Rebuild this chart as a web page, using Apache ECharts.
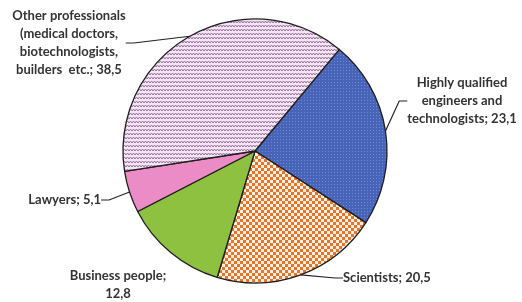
<!DOCTYPE html>
<html>
<head>
<meta charset="utf-8">
<script src="https://cdn.jsdelivr.net/npm/echarts@6/dist/echarts.min.js"></script>
<style>
  html, body { margin: 0; padding: 0; background: #fff; }
  #chart { width: 522px; height: 302px; }
</style>
</head>
<body>
<div id="chart"></div>
<script>
// slice order follows the picture, clockwise from the upper right
const categories = [
  'Highly qualified\nengineers and\ntechnologists',
  'Scientists',
  'Business people',
  'Lawyers',
  'Other professionals\n(medical doctors,\nbiotechnologists,\nbuilders  etc.'
];
const shares = [23.1, 20.5, 12.8, 5.1, 38.5];

// tiny canvas tiles for the hatched fills
function makeTile(w, h, draw){
  const c = document.createElement('canvas');
  c.width = w; c.height = h;
  draw(c.getContext('2d'));
  return { image: c, repeat: 'repeat' };
}

const zigzag = makeTile(6, 4, (g) => {
  g.fillStyle = '#f1e6f1'; g.fillRect(0, 0, 6, 4);
  g.strokeStyle = '#9c6fa0'; g.lineWidth = 1;
  g.beginPath(); g.moveTo(0, 3); g.lineTo(1.5, 1); g.lineTo(3, 3); g.lineTo(4.5, 1); g.lineTo(6, 3); g.stroke();
});
const blueDots = makeTile(3, 3, (g) => {
  g.fillStyle = '#4764b8'; g.fillRect(0, 0, 3, 3);
  g.fillStyle = '#6f8ad0'; g.fillRect(1, 1, 1, 1);
});
const checker = makeTile(6, 6, (g) => {
  g.fillStyle = '#e8742a'; g.fillRect(0, 0, 6, 6);
  g.fillStyle = '#fdf1e6'; g.fillRect(0, 0, 3, 3); g.fillRect(3, 3, 3, 3);
});

const fills = [blueDots, checker, '#8dc13f', '#ec8cc6', zigzag];

const labelSpots = [
  { x: 462, y: 101, align: 'center' },
  { x: 343, y: 278, align: 'left' },
  { x: 118, y: 285, align: 'center' },
  { x: 101, y: 200, align: 'right' },
  { x: 69, y: 43, align: 'center' }
];

const chart = echarts.init(document.getElementById('chart'), null, { renderer: 'canvas' });

chart.setOption({
  backgroundColor: '#fff',
  animation: false,
  series: [{
    type: 'pie',
    center: [255, 151],
    radius: 132,
    startAngle: 50.3,
    clockwise: true,
    data: categories.map((name, i) => ({
      name, value: shares[i],
      itemStyle: { color: fills[i] },
      labelLine: { show: i !== 2 }
    })),
    itemStyle: { borderColor: '#1e1e1e', borderWidth: 1.3 },
    label: {
      show: true,
      position: 'outside',
      overflow: 'none',
      color: '#333',
      fontFamily: 'Lato',
      fontWeight: 'bold',
      fontSize: 13,
      lineHeight: 18,
      align: 'center',
      formatter: (p) => p.dataIndex === 2
        ? p.name + ';\n' + String(p.value).replace('.', ',')
        : p.name + '; ' + String(p.value).replace('.', ',')
    },
    labelLine: { lineStyle: { color: '#222', width: 1.2 }, length: 10, length2: 8 },
    labelLayout: (params) => Object.assign({ verticalAlign: 'middle' }, labelSpots[params.dataIndex])
  }]
});
</script>
</body>
</html>
